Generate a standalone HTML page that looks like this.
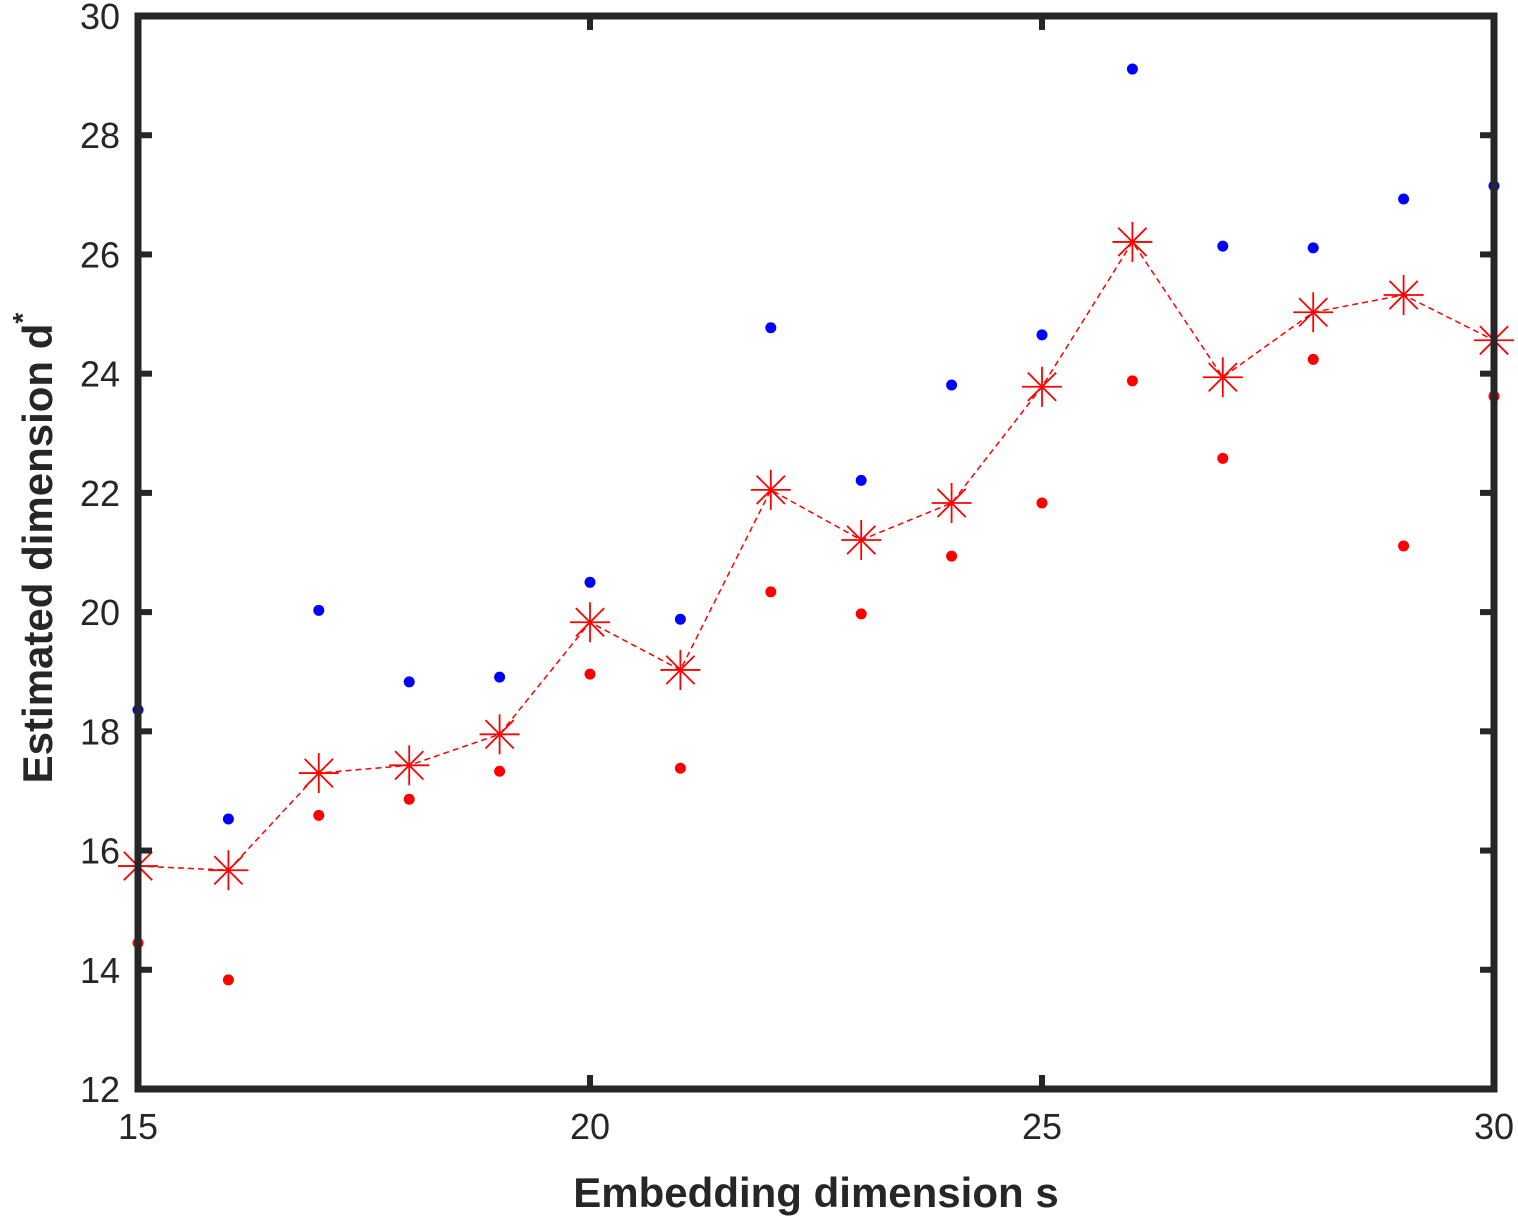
<!DOCTYPE html>
<html><head><meta charset="utf-8"><style>
html,body{margin:0;padding:0;background:#fff;}
svg{display:block;font-family:"Liberation Sans",Arial,sans-serif;}
</style></head><body>
<svg id="chart" width="1518" height="1220" viewBox="0 0 1518 1220">
<g id="plot"></g>
<g id="axes"></g>
<text x="816" y="1207" text-anchor="middle" font-size="42" font-weight="bold" fill="#262626">Embedding dimension s</text>
<text transform="translate(52,548) rotate(-90)" text-anchor="middle" font-size="42" font-weight="bold" fill="#262626">Estimated dimension d<tspan dy="-20" font-size="28">*</tspan></text>
</svg>
<script>
const sValues=[15,16,17,18,19,20,21,22,23,24,25,26,27,28,29,30];
const meanValues=[15.74,15.67,17.30,17.43,17.95,19.83,19.03,22.05,21.21,21.83,23.78,26.21,23.94,25.03,25.32,24.56];
const upperValues=[18.36,16.53,20.03,18.83,18.91,20.50,19.88,24.77,22.21,23.81,24.65,29.11,26.14,26.11,26.93,27.15];
const lowerValues=[14.45,13.83,16.59,16.86,17.33,18.96,17.38,20.34,19.97,20.94,21.83,23.88,22.58,24.24,21.11,23.62];
const xTicks=[15,20,25,30];
const yTicks=[12,14,16,18,20,22,24,26,28,30];

const L=138,R=1494,T=16,B=1089;
const xs=v=>L+(v-15)/15*(R-L);
const ys=v=>B-(v-12)/18*(B-T);
const NS="http://www.w3.org/2000/svg";
const plot=document.getElementById('plot'),axes=document.getElementById('axes');
function mk(tag,attrs,parent){const e=document.createElementNS(NS,tag);for(const k in attrs)e.setAttribute(k,attrs[k]);parent.appendChild(e);return e;}

const line=mk('polyline',{points:sValues.map((s,i)=>xs(s)+','+ys(meanValues[i])).join(' '),fill:'none',stroke:'#ff0000','stroke-width':1.5,'stroke-dasharray':'6,4'},plot);



sValues.forEach((s,i)=>{
  const u=mk('circle',{cx:xs(s),cy:ys(upperValues[i]),r:5.5,fill:'#0000ff'},plot);
  
  
  const l=mk('circle',{cx:xs(s),cy:ys(lowerValues[i]),r:5.5,fill:'#ff0000'},plot);
  
  
  const cx=xs(s),cy=ys(meanValues[i]),r=20,d=r*0.7071;
  const g=mk('g',{stroke:'#ff0000','stroke-width':1.8},plot);
  
  
  mk('line',{x1:cx-r,y1:cy,x2:cx+r,y2:cy},g);
  mk('line',{x1:cx,y1:cy-r,x2:cx,y2:cy+r},g);
  mk('line',{x1:cx-d,y1:cy-d,x2:cx+d,y2:cy+d},g);
  mk('line',{x1:cx-d,y1:cy+d,x2:cx+d,y2:cy-d},g);
});

const box=mk('rect',{x:L,y:T,width:R-L,height:B-T,fill:'none',stroke:'#262626','stroke-width':7},axes);


xTicks.forEach(v=>{
  const x=xs(v);
  mk('line',{x1:x,y1:B,x2:x,y2:B-14,stroke:'#262626','stroke-width':6},axes);
  mk('line',{x1:x,y1:T,x2:x,y2:T+14,stroke:'#262626','stroke-width':6},axes);
  const t=mk('text',{x:x,y:B+50,'text-anchor':'middle','font-size':36,fill:'#262626'},axes);
  t.textContent=v;
  
  
});
yTicks.forEach(v=>{
  const y=ys(v);
  mk('line',{x1:L,y1:y,x2:L+14,y2:y,stroke:'#262626','stroke-width':6},axes);
  mk('line',{x1:R,y1:y,x2:R-14,y2:y,stroke:'#262626','stroke-width':6},axes);
  const t=mk('text',{x:L-18,y:y+13,'text-anchor':'end','font-size':36,fill:'#262626'},axes);
  t.textContent=v;
  
  
});
</script>
</body></html>
